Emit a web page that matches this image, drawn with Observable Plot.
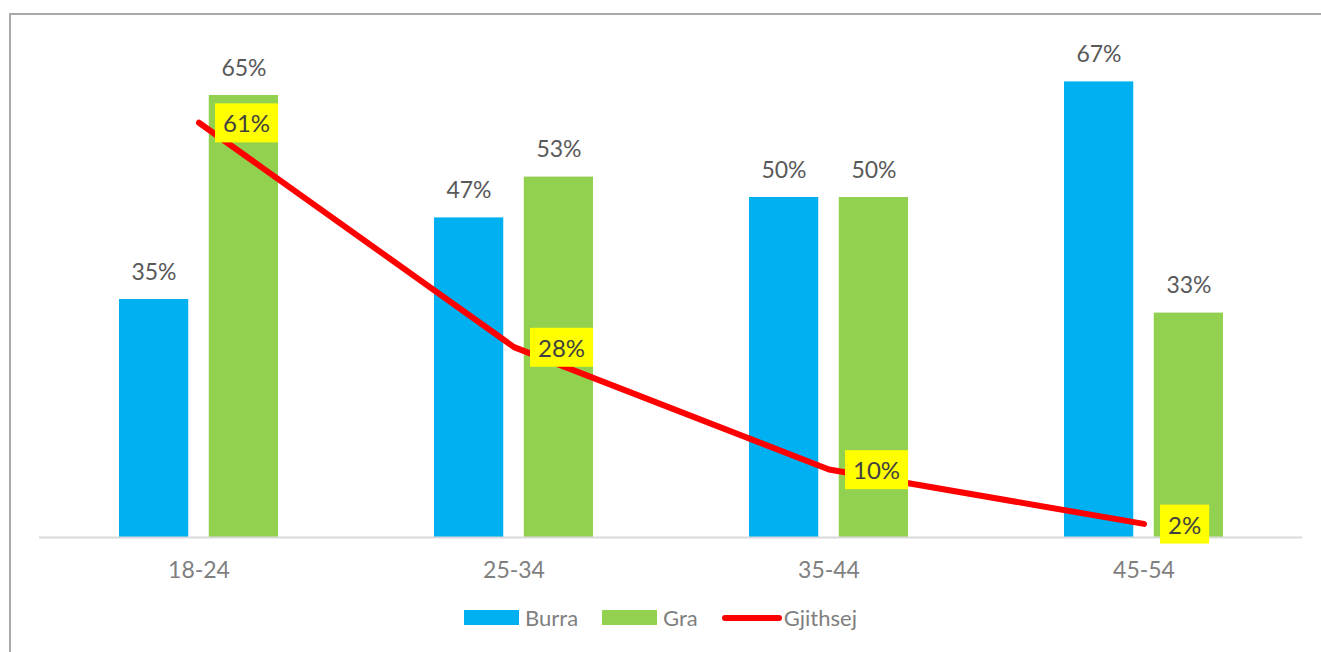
<!DOCTYPE html>
<html>
<head>
<meta charset="utf-8">
<script src="https://cdn.jsdelivr.net/npm/d3@7"></script>
<script src="https://cdn.jsdelivr.net/npm/@observablehq/plot@0.6"></script>
<style>
  html, body { margin: 0; padding: 0; background: #fff; }
  body { width: 1321px; height: 652px; overflow: hidden; position: relative; font-family: Lato, "Open Sans", sans-serif; }
  #frame { position: absolute; left: 9px; top: 13px; width: 1400px; height: 700px; border-left: 2px solid #a9a9a9; border-top: 2px solid #a9a9a9; box-sizing: border-box; pointer-events: none; }
  #chart { position: absolute; left: 0; top: 0; }
  #legend { position: absolute; top: 604px; left: 0; width: 1321px; display: flex; justify-content: center; align-items: center; font-size: 22px; color: #7f7f7f; }
  .item { display: flex; align-items: center; margin: 0 12px; }
  .sw { width: 55px; height: 15px; margin-right: 6px; }
  .ln { width: 60px; height: 6px; border-radius: 3px; background: #ff0000; margin-right: 2px; }
</style>
</head>
<body>
<div id="chart"></div>
<div id="frame"></div>
<div id="legend"></div>
<script>
const categories = ["18-24", "25-34", "35-44", "45-54"];
const burra = [35, 47, 50, 67];
const gra = [65, 53, 50, 33];
const gjithsej = [61, 28, 10, 2];
const seriesNames = ["Burra", "Gra", "Gjithsej"];
const seriesColors = ["#00B0F0", "#92D050", "#FF0000"];

const data = categories.map((c, i) => ({cat: c, burra: burra[i], gra: gra[i], total: gjithsej[i]}));
const pct = v => `${v}%`;

const W = 1321, H = 595;
const mL = 39, mR = 19, mB = H - 537;
const yMax = 70;
const mT = 537 - yMax * 6.8;
const band = (W - mL - mR) / categories.length;
const barW = 70, outer = 78;

const chart = Plot.plot({
  width: W,
  height: H,
  marginLeft: mL,
  marginRight: mR,
  marginTop: mT,
  marginBottom: mB,
  style: {fontFamily: "Lato, 'Open Sans', sans-serif", background: "transparent", overflow: "visible"},
  x: {type: "band", domain: categories, padding: 0, axis: null},
  y: {domain: [0, yMax], axis: null},
  marks: [
    Plot.barY(data, {x: "cat", y: "burra", fill: seriesColors[0], insetLeft: outer, insetRight: band - outer - barW}),
    Plot.barY(data, {x: "cat", y: "gra", fill: seriesColors[1], insetLeft: band - outer - barW, insetRight: outer}),
    Plot.ruleY([0], {stroke: "#d9d9d9", strokeWidth: 2}),
    Plot.text(data, {x: "cat", y: "burra", text: d => pct(d.burra), dx: -45, dy: -27, fontSize: 23, fill: "#595959"}),
    Plot.text(data, {x: "cat", y: "gra", text: d => pct(d.gra), dx: 45, dy: -27, fontSize: 23, fill: "#595959"}),
    Plot.text(categories, {x: d => d, y: () => 0, text: d => d, dy: 33, fontSize: 23, fill: "#7f7f7f"}),
    Plot.line(data, {x: "cat", y: "total", stroke: seriesColors[2], strokeWidth: 6, strokeLinecap: "round", strokeLinejoin: "round"}),
    Plot.text(data, {x: "cat", y: "total", text: d => pct(d.total), textAnchor: "start", dx: 24, dy: 2, fontSize: 24, fill: "#404040", className: "boxlabel"})
  ]
});
document.getElementById("chart").appendChild(chart);

// yellow boxes behind the line labels, sized from the rendered text
d3.select(chart).selectAll("g.boxlabel text").each(function() {
  const b = this.getBBox();
  const t = this.getAttribute("transform");
  const cy = b.y + b.height / 2;
  d3.select(this.parentNode).insert("rect", () => this)
    .attr("x", b.x - 8).attr("y", cy - 19.5)
    .attr("width", b.width + 16).attr("height", 39)
    .attr("transform", t)
    .attr("fill", "#FFFF00");
});

const legend = d3.select("#legend");
seriesNames.forEach((name, i) => {
  const it = legend.append("div").attr("class", "item");
  if (i < 2) it.append("div").attr("class", "sw").style("background", seriesColors[i]);
  else it.append("div").attr("class", "ln");
  it.append("span").text(name);
});
</script>
</body>
</html>
